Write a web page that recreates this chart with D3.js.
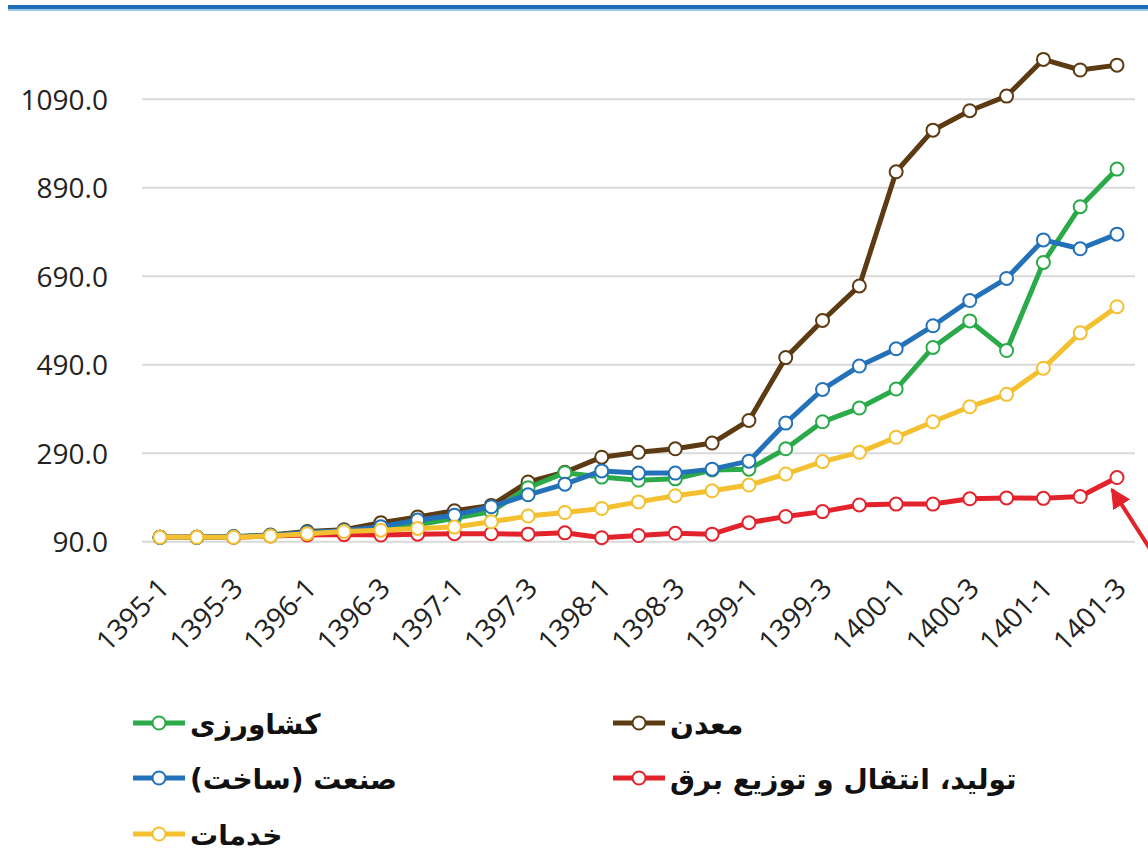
<!DOCTYPE html>
<html>
<head>
<meta charset="utf-8">
<script src="https://cdn.jsdelivr.net/npm/d3@7"></script>
<style>
  body { margin: 0; background: #fff; }
  svg { display: block; }
</style>
</head>
<body>
<div id="chart"></div>
<script>
// data (index, quarterly)
var quarters = [
  "1395-1", "1395-2", "1395-3", "1395-4",
  "1396-1", "1396-2", "1396-3", "1396-4",
  "1397-1", "1397-2", "1397-3", "1397-4",
  "1398-1", "1398-2", "1398-3", "1398-4",
  "1399-1", "1399-2", "1399-3", "1399-4",
  "1400-1", "1400-2", "1400-3", "1400-4",
  "1401-1", "1401-2", "1401-3"
];
var tickLabels = quarters.filter(function (d, i) { return i % 2 === 0; });
var yTicks = [90, 290, 490, 690, 890, 1090];

var madan = [100, 100, 101, 105, 113, 117, 133, 146, 160, 172, 225, 247, 281, 292, 300, 313, 364, 506, 590, 668, 926, 1020, 1064, 1097, 1180, 1156, 1167];
var keshavarzi = [100, 100, 101, 104, 110, 114, 122, 128, 143, 158, 212, 246, 236, 229, 232, 252, 254, 300, 361, 392, 435, 529, 589, 522, 721, 847, 932];
var bargh = [100, 100, 100, 103, 105, 106, 105, 107, 108, 108, 107, 110, 99, 104, 109, 107, 133, 147, 158, 173, 175, 175, 187, 189, 188, 192, 235];
var sanat = [100, 100, 101, 104, 111, 115, 124, 139, 150, 169, 196, 220, 250, 245, 245, 254, 272, 358, 434, 487, 526, 578, 635, 685, 772, 752, 785];
var khadamat = [100, 100, 100, 103, 108, 113, 116, 120, 123, 135, 148, 156, 165, 180, 194, 205, 218, 243, 271, 292, 326, 361, 395, 423, 482, 562, 621];

var seriesNames = ["معدن", "کشاورزی", "تولید، انتقال و توزیع برق", "صنعت (ساخت)", "خدمات"];
var seriesValues = [madan, keshavarzi, bargh, sanat, khadamat];
var seriesColors = ["#5C3A12", "#2BAA4A", "#E3232B", "#2372B9", "#F4C02F"];

var width = 1148, height = 856;

var svg = d3
  .select("#chart")
  .append("svg")
  .attr("width", width)
  .attr("height", height);

// blue rule at the top of the page
svg.append("rect").attr("x", 8).attr("y", 5).attr("width", width - 8).attr("height", 4).attr("fill", "#1C6DB4");
svg.append("rect").attr("x", 8).attr("y", 9).attr("width", width - 8).attr("height", 2).attr("fill", "#9CC8E8");

var x = d3.scalePoint().domain(quarters).range([160, 1117]);
var y = d3.scaleLinear().domain([90, 1090]).range([541.7, 99.2]);

// gridlines
svg
  .append("g")
  .selectAll("line")
  .data(yTicks)
  .enter()
  .append("line")
  .attr("x1", 142)
  .attr("x2", 1135)
  .attr("y1", function (d) { return y(d); })
  .attr("y2", function (d) { return y(d); })
  .attr("stroke", "#D9D9D9")
  .attr("stroke-width", 2);

// y axis labels
var yAxis = svg
  .append("g")
  .attr("transform", "translate(108,0)")
  .call(d3.axisLeft(y).tickValues(yTicks).tickFormat(d3.format(".1f")).tickSize(0).tickPadding(0));
yAxis.select(".domain").remove();
yAxis
  .selectAll("text")
  .attr("font-family", "'Open Sans', sans-serif")
  .attr("font-size", 28)
  .attr("fill", "#222")
  .attr("dy", "0.36em");

// x axis labels, rotated
var xAxis = svg
  .append("g")
  .call(d3.axisBottom(x).tickValues(tickLabels).tickSize(0).tickPadding(0));
xAxis.select(".domain").remove();
xAxis
  .selectAll(".tick")
  .attr("transform", function (d) { return "translate(" + (x(d) + 4) + ",583)"; });
xAxis
  .selectAll("text")
  .attr("y", 0)
  .attr("dy", "0.35em")
  .attr("transform", "rotate(-45)")
  .style("text-anchor", "end")
  .attr("font-family", "'Open Sans', sans-serif")
  .attr("font-size", 28)
  .attr("fill", "#222");

var line = d3
  .line()
  .x(function (d, i) { return x(quarters[i]); })
  .y(function (d) { return y(d); });

var groups = svg
  .selectAll(".series")
  .data(seriesValues)
  .enter()
  .append("g")
  .attr("class", "series");

groups
  .append("path")
  .attr("fill", "none")
  .attr("stroke", function (d, i) { return seriesColors[i]; })
  .attr("stroke-width", 5)
  .attr("stroke-linejoin", "round")
  .attr("d", function (d) { return line(d); });

groups.each(function (vals, k) {
  d3.select(this)
    .selectAll("circle")
    .data(vals)
    .enter()
    .append("circle")
    .attr("cx", function (d, i) { return x(quarters[i]); })
    .attr("cy", function (d) { return y(d); })
    .attr("r", 6.5)
    .attr("fill", "#fff")
    .attr("stroke", seriesColors[k])
    .attr("stroke-width", 2);
});

// red arrow pointing at last value of bargh
var tip = [x(quarters[26]) - 5, y(bargh[26]) + 12];
svg.append("defs")
  .append("marker")
  .attr("id", "arrowhead")
  .attr("viewBox", "0 0 10 10")
  .attr("refX", 9)
  .attr("refY", 5)
  .attr("markerWidth", 5)
  .attr("markerHeight", 5)
  .attr("orient", "auto")
  .append("path")
  .attr("d", "M0,0 L10,5 L0,10 z")
  .attr("fill", "#E3232B");
svg
  .append("line")
  .attr("x1", 1152)
  .attr("y1", 552)
  .attr("x2", tip[0])
  .attr("y2", tip[1])
  .attr("stroke", "#E3232B")
  .attr("stroke-width", 4)
  .attr("marker-end", "url(#arrowhead)");

// legend
var legendPos = [
  [613, 723], [133, 723], [613, 778], [133, 778], [133, 834]
];
var legend = svg
  .selectAll(".legend")
  .data(seriesNames)
  .enter()
  .append("g")
  .attr("class", "legend")
  .attr("transform", function (d, i) { return "translate(" + legendPos[i][0] + "," + legendPos[i][1] + ")"; });

legend
  .append("line")
  .attr("x1", 0)
  .attr("x2", 52)
  .attr("stroke", function (d, i) { return seriesColors[i]; })
  .attr("stroke-width", 5);
legend
  .append("circle")
  .attr("cx", 26)
  .attr("r", 6.5)
  .attr("fill", "#fff")
  .attr("stroke", function (d, i) { return seriesColors[i]; })
  .attr("stroke-width", 2);
legend
  .append("text")
  .attr("x", 57)
  .attr("y", 11)
  .attr("direction", "rtl")
  .attr("text-anchor", "end")
  .attr("font-family", "'DejaVu Sans', sans-serif")
  .attr("font-weight", "bold")
  .attr("font-size", 28)
  .attr("fill", "#111")
  .text(function (d) { return d; });
</script>
</body>
</html>
